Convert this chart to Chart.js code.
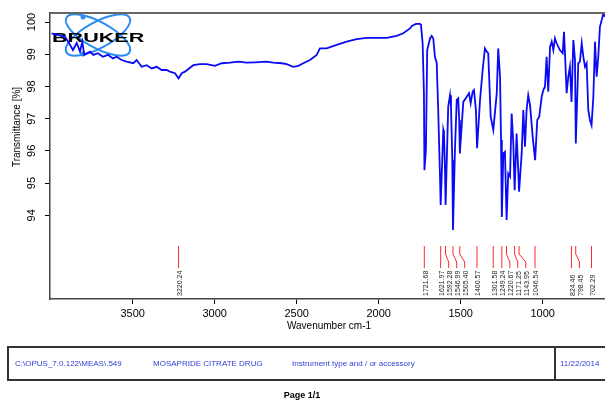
<!DOCTYPE html>
<html>
<head>
<meta charset="utf-8">
<script src="https://cdn.jsdelivr.net/npm/chart.js@4"></script>
<style>
  html, body { margin: 0; padding: 0; background: #fff; }
  canvas { display: block; }
</style>
</head>
<body>
<canvas id="ir" width="605" height="401"></canvas>
<script>
// spectrum
const wavenumbers = [
  3994, 3913, 3893, 3864, 3841, 3821, 3807, 3795, 3760, 3740, 3712, 3681, 3651, 3620, 3598, 3567,
  3537, 3496, 3476, 3445, 3415, 3384, 3354, 3323, 3293, 3273, 3242, 3220, 3201, 3181, 3130, 3090,
  3049, 2998, 2957, 2907, 2856, 2805, 2754, 2683, 2643, 2591, 2561, 2521, 2490, 2460, 2419, 2378,
  2358, 2317, 2256, 2195, 2134, 2073, 2012, 1951, 1890, 1850, 1809, 1797, 1773, 1748, 1742, 1732,
  1724, 1721, 1712, 1704, 1687, 1677, 1667, 1657, 1646, 1637, 1626, 1622, 1606, 1602, 1596, 1592,
  1576, 1565, 1559, 1551, 1547, 1535, 1524, 1515, 1509, 1505, 1484, 1463, 1449, 1439, 1427, 1419,
  1407, 1400, 1382, 1366, 1352, 1341, 1332, 1317, 1301, 1280, 1271, 1260, 1254, 1249, 1240, 1230,
  1220, 1210, 1199, 1189, 1179, 1171, 1159, 1149, 1144, 1128, 1118, 1108, 1098, 1088, 1077, 1061,
  1046, 1033, 1021, 1006, 996, 986, 976, 966, 955, 945, 935, 925, 915, 895, 878, 870,
  864, 854, 844, 834, 824, 813, 803, 798, 783, 773, 762, 752, 742, 732, 722, 712,
  702, 691, 681, 671, 661, 651, 640, 630, 620
];
const transmittance = [
  99.65, 99.54, 99.39, 99.13, 99.35, 99.08, 99.39, 98.98, 99.08, 98.98, 99.03, 98.92, 98.98, 98.87, 98.92, 98.82,
  98.77, 98.72, 98.82, 98.61, 98.66, 98.56, 98.61, 98.51, 98.51, 98.46, 98.41, 98.25, 98.41, 98.46, 98.66, 98.69,
  98.69, 98.64, 98.72, 98.74, 98.77, 98.74, 98.75, 98.77, 98.74, 98.72, 98.69, 98.61, 98.64, 98.72, 98.82, 98.98,
  99.18, 99.18, 99.29, 99.39, 99.47, 99.51, 99.51, 99.51, 99.57, 99.65, 99.80, 99.88, 99.94, 99.94, 99.91, 99.34,
  97.79, 95.40, 96.02, 99.13, 99.49, 99.57, 99.49, 98.92, 98.72, 97.27, 95.20, 94.32, 96.65, 96.55, 95.51, 94.32,
  97.37, 97.73, 97.37, 95.71, 93.54, 96.02, 97.58, 97.63, 96.96, 95.92, 97.52, 97.68, 97.79, 97.48, 97.84, 97.89,
  97.27, 96.08, 97.58, 98.51, 99.18, 99.08, 99.03, 97.06, 96.65, 97.79, 99.18, 98.30, 96.34, 93.95, 95.92, 95.97,
  93.85, 95.30, 95.20, 97.16, 96.23, 94.78, 96.54, 95.40, 94.73, 95.92, 97.27, 96.13, 97.27, 97.73, 97.42, 96.44,
  95.71, 96.96, 97.06, 97.68, 97.89, 97.99, 98.92, 97.84, 99.23, 99.39, 99.13, 99.49, 99.34, 99.13, 99.03, 99.70,
  99.03, 97.79, 98.30, 98.61, 97.52, 99.44, 98.82, 96.23, 98.72, 98.77, 99.34, 98.92, 98.61, 98.72, 97.27, 96.96,
  96.80, 97.68, 99.39, 98.30, 98.92, 99.85, 100.06, 100.27, 100.16
];
// picked peaks (OPUS peak table)
const peaks = [3220.24, 1721.68, 1621.97, 1592.28, 1546.99, 1505.40, 1400.57, 1301.58,
  1249.24, 1220.67, 1171.25, 1143.95, 1046.54, 824.46, 798.45, 702.29];
const xTicks = [3500, 3000, 2500, 2000, 1500, 1000];
const yTicks = [94, 95, 96, 97, 98, 99, 100];
const footerTexts = ["C:\\OPUS_7.0.122\\MEAS\\.549", "MOSAPRIDE CITRATE DRUG",
  "Instrument type and / or accessory", "11/22/2014"];

const FONT = "'Liberation Sans', Arial, sans-serif";

const decor = {
  id: "decor",
  beforeDatasetsDraw(chart) {
    // Bruker logo sits behind the trace
    const ctx = chart.ctx;
    ctx.save();
    ctx.strokeStyle = "#2a8cf0";
    ctx.fillStyle = "#2a8cf0";
    ctx.lineWidth = 2;
    [0.5, -0.5].forEach(a => {
      ctx.beginPath();
      ctx.ellipse(98, 35, 36, 13, a, 0, Math.PI * 2);
      ctx.stroke();
    });
    [[83, 17], [83, 54]].forEach(p => {
      ctx.beginPath();
      ctx.arc(p[0], p[1], 2.5, 0, Math.PI * 2);
      ctx.fill();
    });
    ctx.translate(52, 42);
    ctx.scale(1.66, 1);
    ctx.fillStyle = "#000";
    ctx.font = "bold 13px " + FONT;
    ctx.textBaseline = "alphabetic";
    ctx.fillText("BRUKER", 0, 0);
    ctx.restore();
  },
  afterDraw(chart) {
    const ctx = chart.ctx;
    const area = chart.chartArea;
    const xs = chart.scales.x, ys = chart.scales.y;
    ctx.save();

    // top frame line
    ctx.strokeStyle = "#666";
    ctx.lineWidth = 2;
    ctx.beginPath();
    ctx.moveTo(area.left, area.top);
    ctx.lineTo(area.right, area.top);
    ctx.stroke();

    // y tick labels, written upwards
    ctx.fillStyle = "#000";
    ctx.font = "11px " + FONT;
    ctx.textAlign = "center";
    ctx.textBaseline = "middle";
    yTicks.forEach(v => {
      ctx.save();
      ctx.translate(32, ys.getPixelForValue(v));
      ctx.rotate(-Math.PI / 2);
      ctx.fillText(String(v), 0, 0);
      ctx.restore();
    });

    // axis titles
    ctx.font = "10px " + FONT;
    ctx.save();
    ctx.translate(17, 127);
    ctx.rotate(-Math.PI / 2);
    ctx.fillText("Transmittance [%]", 0, 0);
    ctx.restore();
    ctx.fillText("Wavenumber cm-1", 329, 326);

    // peak markers with spread-out labels
    let prev = -Infinity;
    ctx.lineWidth = 1;
    peaks.forEach(p => {
      const px = xs.getPixelForValue(p);
      const lx = Math.max(px, prev + 8);
      prev = lx;
      ctx.strokeStyle = "#ff2a2a";
      ctx.beginPath();
      ctx.moveTo(px, 246);
      ctx.lineTo(px, 254);
      ctx.lineTo(lx, 262);
      ctx.lineTo(lx, 268);
      ctx.stroke();
      ctx.save();
      ctx.translate(lx + 1.5, 296);
      ctx.rotate(-Math.PI / 2);
      ctx.fillStyle = "#222";
      ctx.font = "7px " + FONT;
      ctx.textAlign = "left";
      ctx.textBaseline = "middle";
      ctx.fillText(p.toFixed(2), 0, 0);
      ctx.restore();
    });

    // footer box
    ctx.strokeStyle = "#333";
    ctx.lineWidth = 2;
    ctx.strokeRect(8, 347, 620, 33);
    ctx.beginPath();
    ctx.moveTo(555, 347);
    ctx.lineTo(555, 380);
    ctx.stroke();
    ctx.fillStyle = "#3440d8";
    ctx.font = "8px " + FONT;
    ctx.textAlign = "left";
    ctx.textBaseline = "middle";
    [15, 153, 292, 560].forEach((x, i) => ctx.fillText(footerTexts[i], x, 364));

    ctx.fillStyle = "#000";
    ctx.font = "bold 9px " + FONT;
    ctx.textAlign = "center";
    ctx.fillText("Page 1/1", 302, 396);
    ctx.restore();
  }
};

new Chart(document.getElementById("ir"), {
  type: "line",
  data: {
    datasets: [{
      data: wavenumbers.map((w, i) => ({ x: w, y: transmittance[i] })),
      borderColor: "#0a0af5",
      borderWidth: 1.8,
      pointRadius: 0,
      tension: 0,
      fill: false
    }]
  },
  options: {
    responsive: false,
    animation: false,
    devicePixelRatio: 1,
    layout: { padding: { top: 13, right: 0, left: 0, bottom: 0 } },
    plugins: { legend: { display: false }, tooltip: { enabled: false } },
    scales: {
      x: {
        type: "linear",
        reverse: true,
        min: 620,
        max: 4004,
        afterBuildTicks: s => { s.ticks = xTicks.map(v => ({ value: v })); },
        afterFit: s => { s.height = 102; },
        grid: { drawOnChartArea: false, drawTicks: true, tickLength: 5, color: "#000" },
        border: { display: true, color: "#444", width: 1.5 },
        ticks: {
          color: "#000", font: { size: 11, family: FONT }, padding: 3,
          maxRotation: 0, autoSkip: false, callback: v => String(v)
        }
      },
      y: {
        min: 91.4,
        max: 100.28,
        afterBuildTicks: s => { s.ticks = yTicks.map(v => ({ value: v })); },
        afterFit: s => { s.width = 50; },
        grid: { drawOnChartArea: false, drawTicks: true, tickLength: 5, color: "#000" },
        border: { display: true, color: "#444", width: 1.5 },
        ticks: { display: false }
      }
    }
  },
  plugins: [decor]
});
</script>
</body>
</html>
